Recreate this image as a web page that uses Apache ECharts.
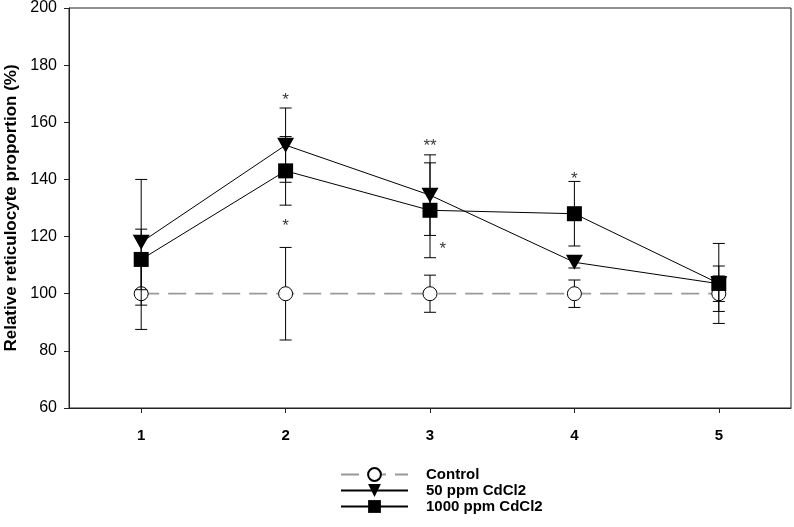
<!DOCTYPE html>
<html><head><meta charset="utf-8">
<script src="https://cdn.jsdelivr.net/npm/echarts@6/dist/echarts.min.js"></script>
<style>html,body{margin:0;padding:0;background:#fff}#c{width:794px;height:527px}</style>
</head><body><div id="c"></div>
<script>
// ---- data ----
const days = [1, 2, 3, 4, 5];
const xTickLabels = ['1', '2', '3', '4', '5'];
const controlMean = [100, 100, 100, 100, 100];
const controlErr  = [12.5, 16.2, 6.5, 4.8, 6.2];
const ppm50Mean   = [118, 152, 134.5, 111, 103.5];
const ppm50Err    = [22, 13, 14.1, 2, 6.2];
const ppm1000Mean = [112, 143, 129.2, 128, 103.6];
const ppm1000Err  = [10.6, 12, 16.6, 11.3, 14];
// significance marks: [x, y, text]
const starX = [2, 2, 3, 3.088, 4];
const starY = [169.3, 125.2, 153.2, 117.3, 141.9];
const starText = ['*', '*', '**', '*', '*'];
const yTicks = [60, 80, 100, 120, 140, 160, 180, 200];

const pts = (m) => days.map((d, i) => [d, m[i]]);
const errs = (m, e) => days.map((d, i) => [d, m[i] - e[i], m[i] + e[i]]);

function errRender(params, api) {
  const x = api.value(0);
  const lo = api.coord([x, api.value(1)]);
  const hi = api.coord([x, api.value(2)]);
  const w = 6;
  const st = { stroke: '#000', lineWidth: 1 };
  return { type: 'group', children: [
    { type: 'line', shape: { x1: lo[0], y1: lo[1], x2: hi[0], y2: hi[1] }, style: st },
    { type: 'line', shape: { x1: lo[0] - w, y1: lo[1], x2: lo[0] + w, y2: lo[1] }, style: st },
    { type: 'line', shape: { x1: hi[0] - w, y1: hi[1], x2: hi[0] + w, y2: hi[1] }, style: st }
  ]};
}

const chart = echarts.init(document.getElementById('c'), null, { renderer: 'canvas' });
const font = 'Arial, "Liberation Sans", sans-serif';
chart.setOption({
  animation: false,
  textStyle: { fontFamily: font },
  grid: { left: 69, right: 3, top: 8, bottom: 119, containLabel: false, outerBoundsMode: 'none', show: true, borderColor: '#222', borderWidth: 1 },
  xAxis: {
    type: 'value', min: 0.5, max: 5.5,
    axisLine: { lineStyle: { color: '#222', width: 1 } },
    axisTick: { show: true, customValues: days, length: 5, lineStyle: { color: '#222' } },
    axisLabel: { customValues: days, formatter: (v) => xTickLabels[days.indexOf(v)], fontWeight: 'bold', fontSize: 15, color: '#000', margin: 20, fontFamily: font },
    splitLine: { show: false }
  },
  yAxis: {
    type: 'value', min: 60, max: 200, interval: 20,
    name: 'Relative reticulocyte proportion (%)', nameLocation: 'middle', nameGap: 46,
    nameTextStyle: { fontWeight: 'bold', fontSize: 17, color: '#000', fontFamily: font },
    axisLine: { show: true, lineStyle: { color: '#222', width: 1 } },
    axisTick: { show: true, length: 5, lineStyle: { color: '#222' } },
    axisLabel: { fontSize: 16, color: '#000', margin: 12, fontFamily: font },
    splitLine: { show: false }
  },
  legend: {
    orient: 'vertical', left: 340, top: 467, padding: 0, itemWidth: 67, itemHeight: 16, itemGap: 1,
    textStyle: { fontWeight: 'bold', fontSize: 15, color: '#000', padding: [0, 0, 0, 13], fontFamily: font },
    data: ['Control', '50 ppm CdCl2', '1000 ppm CdCl2']
  },
  series: [
    { type: 'custom', name: 'ctrlErr', renderItem: errRender, data: errs(controlMean, controlErr), z: 2, silent: true },
    { type: 'line', name: 'Control', data: pts(controlMean), z: 3,
      symbol: 'circle', symbolSize: 14, showAllSymbol: true,
      lineStyle: { color: '#999', width: 1.8, type: [18, 9] },
      itemStyle: { color: '#fff', borderColor: '#000', borderWidth: 1 } },
    { type: 'custom', name: 'p50Err', renderItem: errRender, data: errs(ppm50Mean, ppm50Err), z: 4, silent: true },
    { type: 'line', name: '50 ppm CdCl2', data: pts(ppm50Mean), z: 5,
      symbol: 'triangle', symbolRotate: 180, symbolSize: [17, 15],
      lineStyle: { color: '#000', width: 1 },
      itemStyle: { color: '#000', borderColor: '#000', borderWidth: 0 } },
    { type: 'custom', name: 'p1000Err', renderItem: errRender, data: errs(ppm1000Mean, ppm1000Err), z: 6, silent: true },
    { type: 'line', name: '1000 ppm CdCl2', data: pts(ppm1000Mean), z: 7,
      symbol: 'rect', symbolSize: 15,
      lineStyle: { color: '#000', width: 1 },
      itemStyle: { color: '#000', borderColor: '#000', borderWidth: 0 } },
    { type: 'scatter', name: 'stars', z: 8, silent: true, symbolSize: 0,
      data: starX.map((x, i) => ({ value: [x, starY[i]], label: { formatter: starText[i] } })),
      label: { show: true, position: 'inside', offset: [0, 5], fontSize: 17, color: '#000', fontFamily: font } }
  ]
});
</script></body></html>
